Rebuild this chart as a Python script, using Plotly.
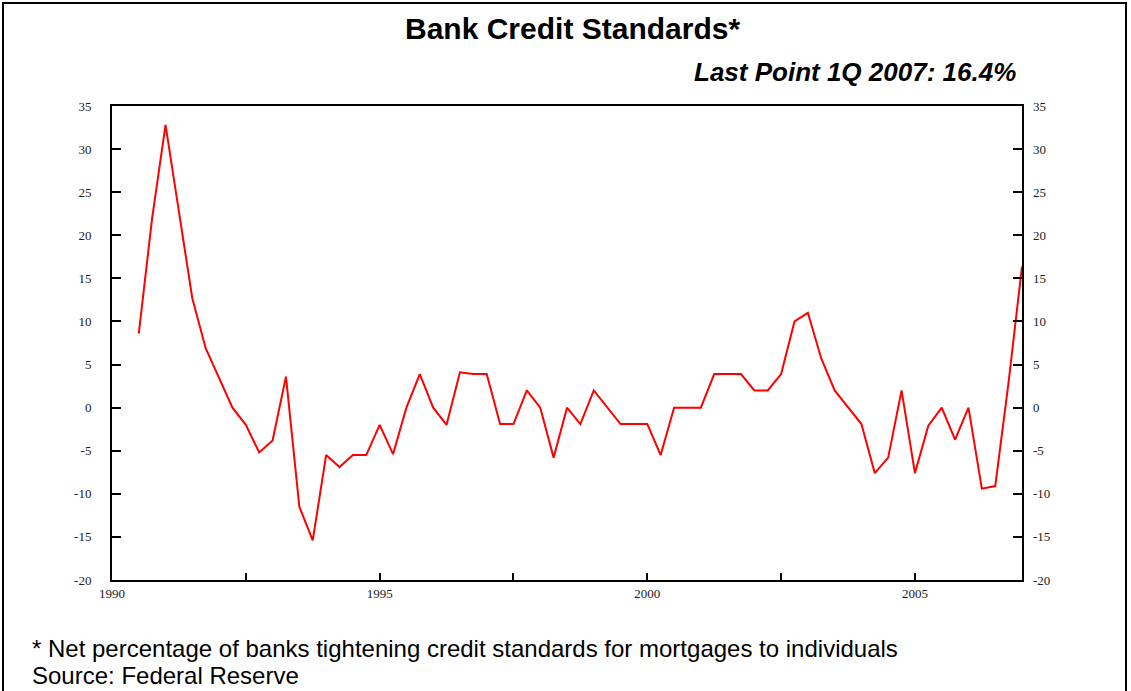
import plotly.graph_objects as go

# Quarterly observations, 1990Q3 .. 2007Q1
years = [1990, 1990,
         1991, 1991, 1991, 1991,
         1992, 1992, 1992, 1992,
         1993, 1993, 1993, 1993,
         1994, 1994, 1994, 1994,
         1995, 1995, 1995, 1995,
         1996, 1996, 1996, 1996,
         1997, 1997, 1997, 1997,
         1998, 1998, 1998, 1998,
         1999, 1999, 1999, 1999,
         2000, 2000, 2000, 2000,
         2001, 2001, 2001, 2001,
         2002, 2002, 2002, 2002,
         2003, 2003, 2003, 2003,
         2004, 2004, 2004, 2004,
         2005, 2005, 2005, 2005,
         2006, 2006, 2006, 2006,
         2007]
quarters = [3, 4] + [1, 2, 3, 4] * 16 + [1]

net_tightening = [8.6, 22.0,
                  32.8, 22.7, 12.7, 6.9,
                  3.5, 0.0, -2.0, -5.2,
                  -3.8, 3.6, -11.5, -15.4,
                  -5.5, -6.9, -5.5, -5.5,
                  -2.0, -5.4, 0.0, 3.9,
                  0.0, -2.0, 4.1, 3.9,
                  3.9, -1.9, -1.9, 2.0,
                  0.0, -5.8, 0.0, -1.9,
                  2.0, 0.0, -1.9, -1.9,
                  -1.9, -5.5, 0.0, 0.0,
                  0.0, 3.9, 3.9, 3.9,
                  2.0, 2.0, 3.9, 10.0,
                  11.0, 5.7, 2.0, 0.0,
                  -1.9, -7.6, -5.8, 2.0,
                  -7.6, -2.1, 0.0, -3.7,
                  0.0, -9.4, -9.1, 3.0,
                  16.4]

x_tick_vals = [1990, 1992.5, 1995, 1997.5, 2000, 2002.5, 2005]
x_tick_text = ["1990", "", "1995", "", "2000", "", "2005"]
y_ticks = [35, 30, 25, 20, 15, 10, 5, 0, -5, -10, -15, -20]
y_tick_text = ["35", "30", "25", "20", "15", "10", "5", "0", "-5", "-10", "-15", "-20"]

title_text = "Bank Credit Standards*"
subtitle_text = "Last Point 1Q 2007: 16.4%"
footnote_text = "* Net percentage of banks tightening credit standards for mortgages to individuals"
source_text = "Source: Federal Reserve"

x_time = [y + (q - 1) / 4 for y, q in zip(years, quarters)]

W, H = 1131, 691
L, R, T, B = 112, 1022, 106, 580
pw, ph = R - L, B - T


def px_x(x):
    return (x - L) / pw


def px_y(y):
    return (B - y) / ph


fig = go.Figure()
fig.add_trace(go.Scatter(x=x_time, y=net_tightening, mode="lines",
                         line=dict(color="#FF0000", width=2),
                         hoverinfo="skip", showlegend=False))
fig.add_trace(go.Scatter(x=x_time, y=net_tightening, mode="lines", yaxis="y2",
                         line=dict(color="rgba(0,0,0,0)", width=0),
                         hoverinfo="skip", showlegend=False))

tick_font = dict(family="Liberation Serif, Times New Roman, serif", size=13, color="#222222")

fig.update_layout(
    width=W, height=H,
    margin=dict(l=L, r=W - R, t=T, b=H - B),
    paper_bgcolor="white", plot_bgcolor="white",
    showlegend=False,
    xaxis=dict(range=[1990, 2007], tickvals=x_tick_vals, ticktext=x_tick_text,
               ticks="inside", ticklen=7, tickwidth=1.5, tickcolor="black",
               showline=True, linecolor="black", linewidth=2, mirror=True,
               showgrid=False, zeroline=False, tickfont=tick_font),
    yaxis=dict(range=[-20, 35], tickvals=y_ticks, ticktext=y_tick_text,
               ticks="inside", ticklen=9, tickwidth=1.5, tickcolor="black",
               showline=True, linecolor="black", linewidth=2, mirror=True,
               showgrid=False, zeroline=False, tickfont=tick_font,
               ticklabelstandoff=16),
    yaxis2=dict(range=[-20, 35], tickvals=y_ticks, ticktext=y_tick_text,
                overlaying="y", side="right",
                ticks="inside", ticklen=9, tickwidth=1.5, tickcolor="black",
                showline=False, showgrid=False, zeroline=False, tickfont=tick_font,
                ticklabelstandoff=10),
)

annotations = [
    dict(text="<b>" + title_text + "</b>", x=px_x(572), xref="paper",
         y=px_y(28), yref="paper", xanchor="center", yanchor="middle",
         showarrow=False,
         font=dict(family="Liberation Sans, Arial, sans-serif", size=30, color="black")),
    dict(text="<b><i>" + subtitle_text + "</i></b>", x=px_x(1018), xref="paper",
         y=px_y(72), yref="paper", xanchor="right", yanchor="middle",
         showarrow=False,
         font=dict(family="Liberation Sans, Arial, sans-serif", size=26, color="black")),
    dict(text=footnote_text, x=px_x(30), xref="paper",
         y=px_y(648), yref="paper", xanchor="left", yanchor="middle",
         showarrow=False,
         font=dict(family="Liberation Sans, Arial, sans-serif", size=24, color="black")),
    dict(text=source_text, x=px_x(30), xref="paper",
         y=px_y(675), yref="paper", xanchor="left", yanchor="middle",
         showarrow=False,
         font=dict(family="Liberation Sans, Arial, sans-serif", size=24, color="black")),
]
fig.update_layout(annotations=annotations)

fig.add_shape(type="rect", xref="paper", yref="paper",
              x0=px_x(3), x1=px_x(1126), y0=px_y(700), y1=px_y(3),
              line=dict(color="black", width=2), fillcolor="rgba(0,0,0,0)", layer="below")

fig.write_html("out.html", config={"displayModeBar": False},
               post_script="document.body.style.margin='0px';")
